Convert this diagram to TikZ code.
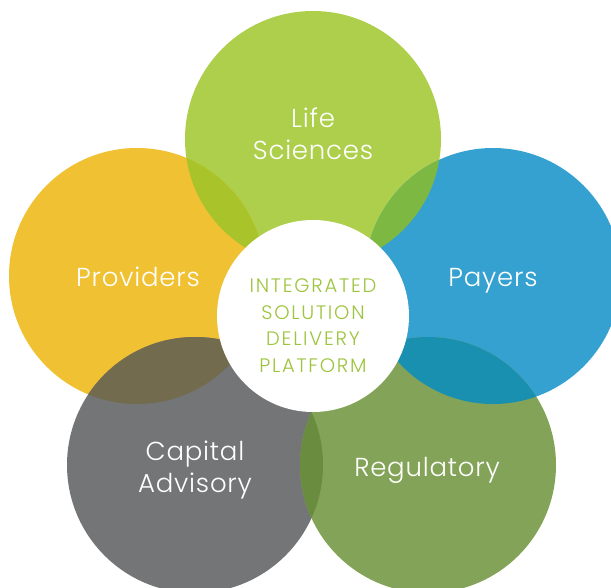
\documentclass[tikz,border=0pt]{standalone}
\usepackage{fontspec}
\IfFontExistsTF{Poppins Light}{\setmainfont{Poppins Light}}{\setmainfont{Lato}}
\definecolor{cLife}{HTML}{ADCF4C}
\definecolor{cProv}{HTML}{F0C132}
\definecolor{cPay}{HTML}{35A1D0}
\definecolor{cCap}{HTML}{747577}
\definecolor{cReg}{HTML}{83A458}
\definecolor{oLifeProv}{HTML}{A9C42A}
\definecolor{oLifePay}{HTML}{7DB843}
\definecolor{oProvCap}{HTML}{736B4E}
\definecolor{oPayReg}{HTML}{1A90B0}
\definecolor{oCapReg}{HTML}{6A8C3E}
\definecolor{cCenter}{HTML}{9CC43C}
\tikzset{
  petal/.style={circle, minimum size=256pt, inner sep=0pt, outer sep=0pt},
  hub/.style={circle, fill=white, minimum size=192pt, inner sep=0pt},
  petaltext/.style={text=white, anchor=base, inner sep=0pt,
    font=\fontsize{26}{32}\selectfont\addfontfeatures{LetterSpace=3}},
  hubtext/.style={text=cCenter, anchor=base, inner sep=0pt,
    font=\fontsize{19.5}{26}\selectfont\addfontfeatures{LetterSpace=9}}
}
\begin{document}
\begin{tikzpicture}[x=1pt,y=-1pt]
\useasboundingbox (0,0) rectangle (611,587);
\clip (0,0) rectangle (611,587);
% petals
\node[petal, fill=cLife] (life) at (313,139) {};
\node[petal, fill=cProv] (prov) at (137,276) {};
\node[petal, fill=cPay]  (pay)  at (493,276) {};
\node[petal, fill=cCap]  (cap)  at (195,465) {};
\node[petal, fill=cReg]  (reg)  at (428,465) {};
% overlaps
\begin{scope}
  \clip (313,139) circle (128);
  \fill[oLifeProv] (137,276) circle (128);
  \fill[oLifePay] (493,276) circle (128);
\end{scope}
\begin{scope}
  \clip (195,465) circle (128);
  \fill[oProvCap] (137,276) circle (128);
  \fill[oCapReg] (428,465) circle (128);
\end{scope}
\begin{scope}
  \clip (493,276) circle (128);
  \fill[oPayReg] (428,465) circle (128);
\end{scope}
% hub
\node[hub] (hubc) at (313,316) {};
% labels
\node[petaltext] (tlife1) at (313,127) {Life};
\node[petaltext] (tlife2) at (313,159) {Sciences};
\node[petaltext] (tprov) at (138,286) {Providers};
\node[petaltext] (tpay)  at (493,286) {Payers};
\node[petaltext] (tcap1) at (195,460) {Capital};
\node[petaltext] (tcap2) at (195,492) {Advisory};
\node[petaltext] (treg)  at (427,476) {Regulatory};
\node[hubtext] (th1) at (313,292) {INTEGRATED};
\node[hubtext] (th2) at (313,319) {SOLUTION};
\node[hubtext] (th3) at (313,345) {DELIVERY};
\node[hubtext] (th4) at (313,372) {PLATFORM};
\end{tikzpicture}
\end{document}
